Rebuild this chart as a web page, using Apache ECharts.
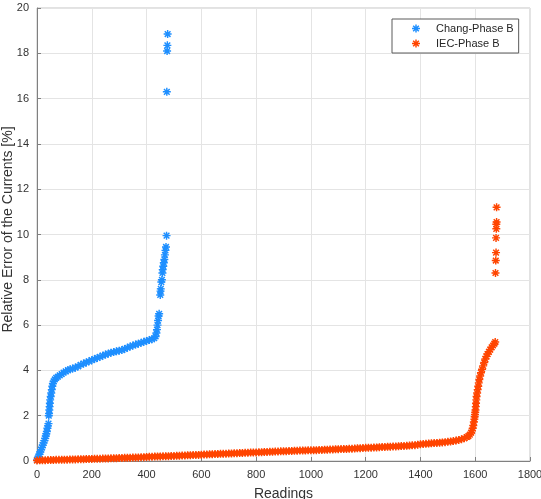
<!DOCTYPE html>
<html>
<head>
<meta charset="utf-8">
<script src="https://cdn.jsdelivr.net/npm/echarts@6/dist/echarts.min.js"></script>
<style>
  html, body { margin: 0; padding: 0; background: #fff; }
  #chart { width: 541px; height: 499px; }
</style>
</head>
<body>
<div id="chart"></div>
<script>
// Chang-Phase B : reading index / relative error (%)
var changX = [0, 3, 6, 9, 12, 15, 18, 21, 24, 27, 30, 32, 34, 36, 38, 40, 42, 43, 44, 45, 46, 47, 48, 50, 52, 54, 56, 58, 61, 65, 70, 76, 83, 90, 97, 105, 113, 121, 130, 140, 150, 160, 170, 180, 190, 200, 210, 220, 230, 240, 250, 260, 270, 280, 290, 300, 310, 320, 330, 340, 350, 360, 370, 380, 390, 400, 410, 420, 428, 433, 436, 438, 440, 442, 444, 446, 450, 451, 452, 454, 456, 458, 459, 461, 463, 465, 467, 469, 471, 473, 474, 475, 476, 477];
var changY = [0.05, 0.12, 0.2, 0.3, 0.4, 0.5, 0.6, 0.7, 0.8, 0.9, 1.0, 1.1, 1.2, 1.3, 1.45, 1.55, 1.65, 2.0, 2.1, 2.25, 2.4, 2.55, 2.7, 2.85, 3.0, 3.15, 3.3, 3.42, 3.52, 3.6, 3.67, 3.72, 3.78, 3.84, 3.9, 3.96, 4.01, 4.05, 4.08, 4.12, 4.18, 4.25, 4.3, 4.35, 4.4, 4.45, 4.5, 4.55, 4.6, 4.65, 4.7, 4.74, 4.78, 4.81, 4.84, 4.87, 4.9, 4.95, 5.0, 5.05, 5.1, 5.14, 5.18, 5.22, 5.26, 5.3, 5.34, 5.38, 5.42, 5.5, 5.65, 5.8, 6.0, 6.2, 6.4, 6.5, 7.33, 7.5, 7.6, 7.9, 8.0, 8.3, 8.45, 8.6, 8.75, 8.9, 9.1, 9.3, 9.45, 9.95, 16.3, 18.1, 18.35, 18.85];

// IEC-Phase B : flat part sampled every 10 readings from 0 to 1500
var iecStep = 10;
var iecFlatY = [
  0.02, 0.03, 0.03, 0.035, 0.04, 0.04, 0.045, 0.05, 0.05, 0.055, 0.06, 0.06, 0.065, 0.07, 0.07, 0.075, 0.08, 0.08, 0.085, 0.09, 0.09,
  0.095, 0.1, 0.1, 0.105, 0.11, 0.115, 0.12, 0.12, 0.125, 0.13, 0.135, 0.14, 0.14, 0.145, 0.15, 0.155, 0.16, 0.165, 0.17, 0.18,
  0.185, 0.19, 0.195, 0.2, 0.2, 0.205, 0.21, 0.215, 0.22, 0.225, 0.23, 0.235, 0.24, 0.245, 0.25, 0.255, 0.26, 0.265, 0.27, 0.28,
  0.285, 0.29, 0.295, 0.3, 0.305, 0.31, 0.315, 0.32, 0.325, 0.33, 0.335, 0.34, 0.345, 0.35, 0.355, 0.36, 0.365, 0.37, 0.375, 0.38,
  0.385, 0.39, 0.395, 0.4, 0.405, 0.41, 0.415, 0.42, 0.425, 0.43, 0.435, 0.44, 0.445, 0.45, 0.455, 0.46, 0.46, 0.465, 0.47, 0.47,
  0.475, 0.48, 0.485, 0.49, 0.495, 0.5, 0.505, 0.51, 0.515, 0.52, 0.525, 0.53, 0.535, 0.54, 0.545, 0.55, 0.56, 0.565, 0.57, 0.58,
  0.585, 0.59, 0.595, 0.6, 0.61, 0.615, 0.62, 0.625, 0.63, 0.64, 0.645, 0.65, 0.66, 0.665, 0.67, 0.68, 0.69, 0.7, 0.72, 0.74,
  0.75, 0.76, 0.77, 0.78, 0.79, 0.8, 0.81, 0.82, 0.83, 0.85
];
// IEC-Phase B : steep tail
var iecTailX = [1510, 1520, 1530, 1540, 1550, 1560, 1570, 1575, 1580, 1585, 1588, 1591, 1593, 1595, 1597, 1598, 1599, 1600, 1601, 1602, 1603, 1604, 1605, 1607, 1609, 1611, 1613, 1615, 1618, 1621, 1625, 1629, 1633, 1637, 1641, 1645, 1650, 1655, 1660, 1665, 1670, 1673, 1674, 1675, 1676, 1676, 1677, 1677, 1678, 1678];
var iecTailY = [0.86, 0.88, 0.9, 0.93, 0.96, 1.0, 1.06, 1.1, 1.16, 1.25, 1.33, 1.45, 1.57, 1.72, 1.85, 1.95, 2.05, 2.15, 2.25, 2.4, 2.55, 2.7, 2.85, 3.0, 3.15, 3.3, 3.45, 3.6, 3.75, 3.9, 4.05, 4.2, 4.35, 4.5, 4.62, 4.72, 4.82, 4.92, 5.02, 5.1, 5.18, 5.25, 8.3, 8.85, 9.2, 9.85, 10.25, 10.45, 10.55, 11.2];

var xTicks = [0, 200, 400, 600, 800, 1000, 1200, 1400, 1600, 1800];
var yTicks = [0, 2, 4, 6, 8, 10, 12, 14, 16, 18, 20];

// 8-arm asterisk like matlab '*'
var star = 'path://M-10,-1.8L10,-1.8L10,1.8L-10,1.8Z M-1.8,-10L1.8,-10L1.8,10L-1.8,10Z ' +
  'M-5.8,-8.4L8.4,5.8L5.8,8.4L-8.4,-5.8Z M-8.4,5.8L5.8,-8.4L8.4,-5.8L-5.8,8.4Z';

var changData = changX.map(function (x, i) { return [x, changY[i]]; });
var iecData = iecFlatY.map(function (y, i) { return [i * iecStep, y]; });
iecTailX.forEach(function (x, i) { iecData.push([x, iecTailY[i]]); });

var font = '"Liberation Sans", Arial, Helvetica, sans-serif';
var myChart = echarts.init(document.getElementById('chart'));
myChart.setOption({
  animation: false,
  backgroundColor: '#fff',
  grid: {
    left: 37,
    right: 11,
    top: 8,
    bottom: 38,
    outerBoundsMode: 'none',
    containLabel: false,
    show: true,
    borderColor: '#c4c4c4',
    borderWidth: 1
  },
  legend: {
    orient: 'vertical',
    left: 392,
    top: 19,
    padding: [4, 5, 4, 20],
    itemGap: 4,
    itemWidth: 30,
    itemHeight: 8,
    backgroundColor: '#fff',
    borderColor: '#5a5a5a',
    borderWidth: 1,
    borderRadius: 0,
    textStyle: { fontFamily: font, fontSize: 11, color: '#262626' },
    data: [
      { name: 'Chang-Phase B', icon: star },
      { name: 'IEC-Phase B', icon: star }
    ]
  },
  xAxis: {
    type: 'value',
    min: 0,
    max: 1800,
    interval: 200,
    name: 'Readings',
    nameLocation: 'middle',
    nameGap: 26,
    nameMoveOverlap: false,
    nameTextStyle: { fontFamily: font, fontSize: 14, color: '#333' },
    axisLine: { show: true, lineStyle: { color: '#808080', width: 1 } },
    axisTick: { show: true, inside: true, length: 4, lineStyle: { color: '#808080' } },
    axisLabel: {
      fontFamily: font, fontSize: 11, color: '#333', margin: 8,
      formatter: function (v) { return xTicks.indexOf(v) >= 0 ? String(v) : ''; }
    },
    splitLine: { show: true, lineStyle: { color: '#e4e4e4', width: 1 } }
  },
  yAxis: {
    type: 'value',
    min: 0,
    max: 20,
    interval: 2,
    name: 'Relative Error of the Currents [%]',
    nameLocation: 'middle',
    nameGap: 22,
    nameMoveOverlap: false,
    nameTextStyle: { fontFamily: font, fontSize: 14, color: '#333', padding: [0, 0, 0, 10] },
    axisLine: { show: true, lineStyle: { color: '#808080', width: 1 } },
    axisTick: { show: true, inside: true, length: 4, lineStyle: { color: '#808080' } },
    axisLabel: {
      fontFamily: font, fontSize: 11, color: '#333', margin: 8,
      formatter: function (v) { return yTicks.indexOf(v) >= 0 ? String(v) : ''; }
    },
    splitLine: { show: true, lineStyle: { color: '#e4e4e4', width: 1 } }
  },
  series: [
    {
      name: 'Chang-Phase B',
      type: 'scatter',
      symbol: star,
      symbolSize: 8,
      itemStyle: { color: '#1e8fff', opacity: 1 },
      data: changData
    },
    {
      name: 'IEC-Phase B',
      type: 'scatter',
      symbol: star,
      symbolSize: 8,
      itemStyle: { color: '#ff4500', opacity: 1 },
      data: iecData
    }
  ]
});
window.addEventListener('resize', function () {
  myChart.resize();
});
</script>
</body>
</html>
